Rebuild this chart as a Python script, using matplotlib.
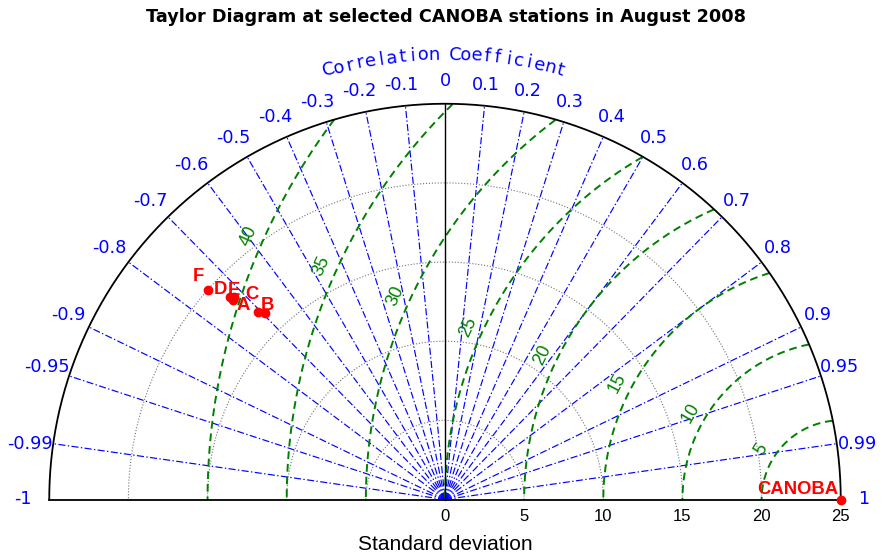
import numpy as np
import matplotlib
matplotlib.use("Agg")
import matplotlib.pyplot as plt

plt.rcParams["font.family"] = ["Liberation Sans", "DejaVu Sans"]

# data
stations = ["A", "B", "C", "D", "E", "F"]
station_std = [18.39, 16.37, 16.73, 18.66, 18.47, 19.98]
station_corr = [-0.728, -0.695, -0.706, -0.728, -0.722, -0.749]
ref_name = "CANOBA"
ref_std = 25.0

corr_ticks = [0.1, 0.2, 0.3, 0.4, 0.5, 0.6, 0.7, 0.8, 0.9, 0.95, 0.99]
std_ticks = [0, 5, 10, 15, 20, 25]
std_circles = [5, 10, 15, 20]
rms_levels = [5, 10, 15, 20, 25, 30, 35, 40]
rms_label_angles = [147.5, 150.2, 152.5, 154.2, 155.2, 155.5, 155.8, 156.0]

# label offsets in pixels (layout only)
label_offsets = {"A": (10, -6), "B": (2.5, 8), "C": (-6.5, 17),
                 "D": (-10, 7), "E": (0, 7), "F": (-10, 13.5)}

RMAX = 25.0
BLUE = "#0000ff"
GREEN = "#008000"
WIDE = "DejaVu Sans"

fig = plt.figure(figsize=(8.82, 5.57), dpi=100)
ax = fig.add_axes([0, 0, 1, 1])
scale = 15.83
ax.set_xlim(-445 / scale, (882 - 445) / scale)
ax.set_ylim(-(557 - 499.5) / scale, 499.5 / scale)
ax.axis("off")

th = np.linspace(0, np.pi, 600)

# std dev circles
for r in std_circles:
    ax.plot(r * np.cos(th), r * np.sin(th), ls=":", color="0.45", lw=0.8, zorder=1)

# correlation rays
for c in corr_ticks:
    for s in (1, -1):
        a = np.arccos(s * c)
        ax.plot([0, RMAX * np.cos(a)], [0, RMAX * np.sin(a)], color=BLUE,
                lw=0.85, ls=(0, (6, 2, 1.2, 2)), zorder=2)

# centred RMS contours
phi = np.linspace(0, np.pi, 1500)
for R, ang in zip(rms_levels, rms_label_angles):
    x = ref_std + R * np.cos(phi)
    y = R * np.sin(phi)
    inside = x ** 2 + y ** 2 <= RMAX ** 2 + 1e-9
    x = np.where(inside, x, np.nan)
    y = np.where(inside, y, np.nan)
    ax.plot(x, y, color=GREEN, ls=(0, (4, 2.5)), lw=1.4, zorder=3)
    rl = R + 0.95
    a = np.deg2rad(ang)
    ax.text(ref_std + rl * np.cos(a), rl * np.sin(a), str(R), color=GREEN,
            fontsize=13, rotation=ang - 90, ha="center", va="center",
            rotation_mode="anchor", zorder=4)

# frame
ax.plot(RMAX * np.cos(th), RMAX * np.sin(th), color="k", lw=1.3, zorder=5)
ax.plot([-RMAX, RMAX], [0, 0], color="k", lw=1.3, zorder=5)
ax.plot([0, 0], [0, RMAX], color="k", lw=1.0, zorder=5)


# correlation labels
def corr_label(c):
    ac = abs(c)
    if ac == 1:
        r, va, shift = 26.1, "center", 0.0
    elif ac >= 0.99:
        r, va, shift = 25.05, "center", 0.0
    elif ac >= 0.95:
        r, va, shift = 24.95, "bottom", 0.0
    elif c == 0:
        r, va, shift = 25.87, "bottom", 0.0
    else:
        r, va = 25.2 + 0.5 * (1 - ac), "bottom"
        shift = 2.0 * (1 - ac) / 0.9
    deg = np.degrees(np.arccos(c))
    deg += shift if c > 0 else -shift
    a = np.deg2rad(deg)
    ha = "left" if c > 0 else ("right" if c < 0 else "center")
    ax.text(r * np.cos(a), r * np.sin(a), f"{c:g}", color=BLUE, fontsize=12.7,
            family=WIDE, ha=ha, va=va, zorder=6)


for c in [-1] + [-v for v in corr_ticks[::-1]] + [0] + corr_ticks + [1]:
    corr_label(c)

# curved axis title
title_chars = "Correlation Coefficient"
angs = np.linspace(105.1, 75.0, len(title_chars))
for ch, ang in zip(title_chars, angs):
    a = np.deg2rad(ang)
    ax.text(28.1 * np.cos(a), 28.1 * np.sin(a), ch, color=BLUE, fontsize=13,
            family=WIDE, rotation=ang - 90, ha="center", va="center",
            rotation_mode="anchor")

# x tick labels
for t in std_ticks:
    ax.text(t, -1.1, str(t), fontsize=12, ha="center", va="center")
ax.text(0, -2.87, "Standard deviation", fontsize=15, ha="center", va="center")

# points
for name, s, c in zip(stations, station_std, station_corr):
    a = np.arccos(c)
    px, py = s * np.cos(a), s * np.sin(a)
    ax.plot(px, py, "o", color="red", ms=6, zorder=7)
    ax.annotate(name, (px, py), xytext=label_offsets[name], textcoords="offset pixels",
                color="red", fontsize=13.3, fontweight="bold", ha="center",
                va="center", zorder=8)
ax.plot(ref_std, 0, "o", color="red", ms=6, zorder=7, clip_on=False)
ax.annotate(ref_name, (ref_std, 0), xytext=(-43, 10.5), textcoords="offset pixels",
            color="red", fontsize=13.3, fontweight="bold", ha="center", va="center",
            zorder=8)

fig.text(446.5 / 882, 1 - 17 / 557, "Taylor Diagram at selected CANOBA stations in August 2008",
         fontsize=12.7, fontweight="bold", family=WIDE, ha="center", va="center")

fig.savefig("out.png", dpi=100)
